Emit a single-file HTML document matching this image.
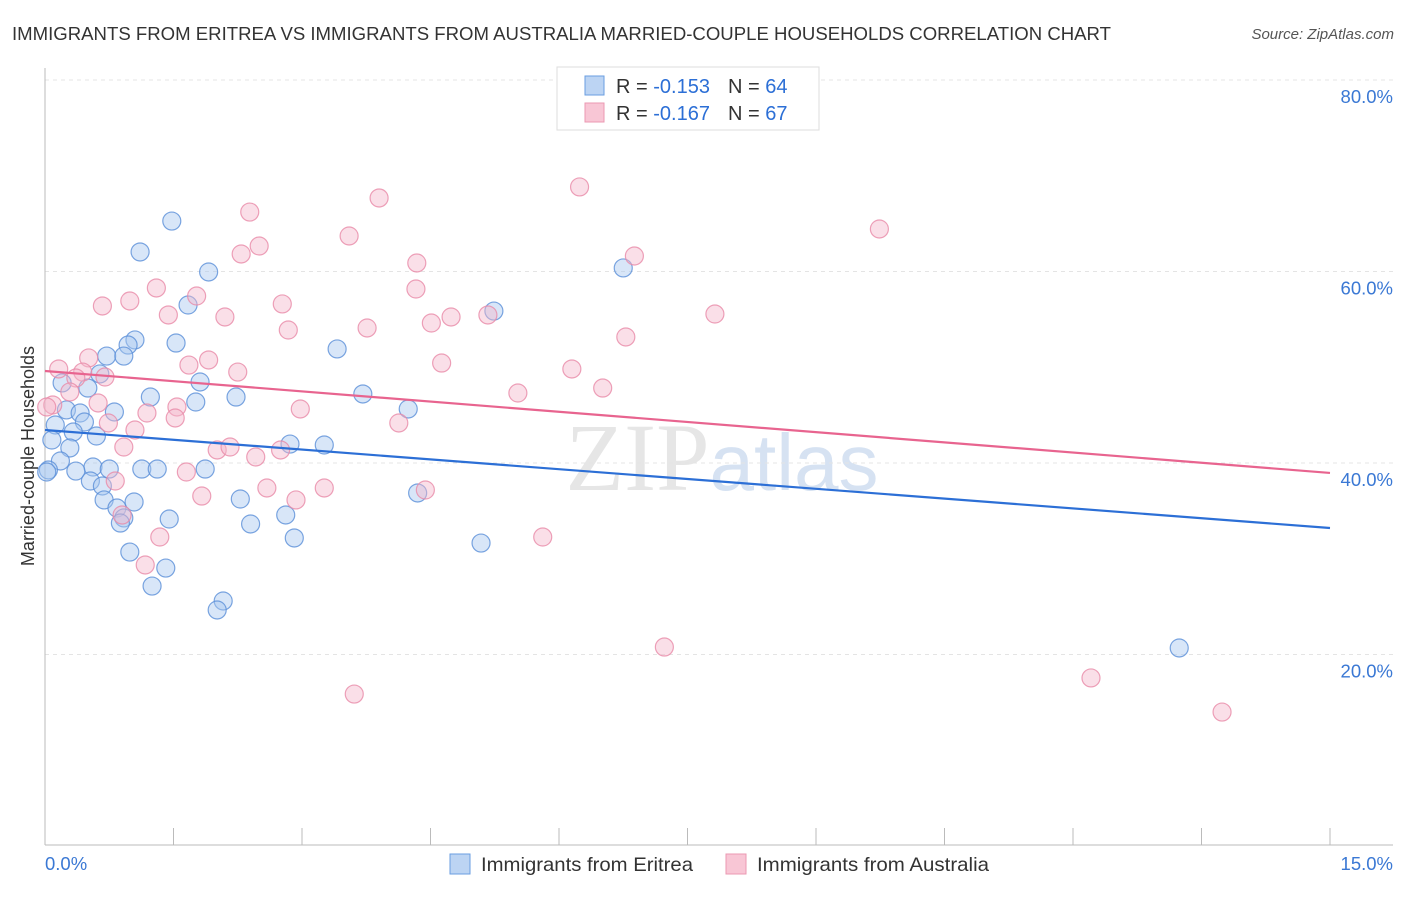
<!DOCTYPE html>
<html><head><meta charset="utf-8"><style>
body{margin:0;background:#fff;font-family:"Liberation Sans",sans-serif}
</style></head><body>
<svg id="chart" width="1406" height="892" xmlns="http://www.w3.org/2000/svg" style="font-family:'Liberation Sans',sans-serif">
<text x="12" y="40" font-size="18.5" fill="#333" textLength="1099" lengthAdjust="spacingAndGlyphs">IMMIGRANTS FROM ERITREA VS IMMIGRANTS FROM AUSTRALIA MARRIED-COUPLE HOUSEHOLDS CORRELATION CHART</text>
<text x="1394" y="39" font-size="15" fill="#555" text-anchor="end" font-style="italic">Source: ZipAtlas.com</text>
<text x="722" y="490" font-size="96" fill="#e6e6e6" text-anchor="middle" font-family="Liberation Serif">ZIP<tspan fill="#d6e2f2" font-family="Liberation Sans" font-size="80">atlas</tspan></text>
<g id="grid"></g>
<g id="axes"></g>
<g id="marks"></g>
<g id="lines"></g>
<text transform="translate(34,456) rotate(-90)" font-size="18" fill="#333" text-anchor="middle">Married-couple Households</text>
<g>
<rect x="557" y="67" width="262" height="63" fill="#fff" stroke="#ddd"/>
<rect x="585" y="76" width="19" height="19" fill="#bcd4f3" stroke="#6a9ee0"/>
<rect x="585" y="103" width="19" height="19" fill="#f8c6d5" stroke="#eb98b2"/>
<text x="616" y="93" font-size="20" fill="#333">R = <tspan fill="#2c6fd6">-0.153</tspan><tspan dx="18">N = </tspan><tspan fill="#2c6fd6">64</tspan></text>
<text x="616" y="120" font-size="20" fill="#333">R = <tspan fill="#2c6fd6">-0.167</tspan><tspan dx="18">N = </tspan><tspan fill="#2c6fd6">67</tspan></text>
</g>
<g>
<rect x="450" y="854" width="20" height="20" fill="#bcd4f3" stroke="#6a9ee0"/>
<text x="481" y="871" font-size="19.5" fill="#333" textLength="212" lengthAdjust="spacingAndGlyphs">Immigrants from Eritrea</text>
<rect x="726" y="854" width="20" height="20" fill="#f8c6d5" stroke="#eb98b2"/>
<text x="757" y="871" font-size="19.5" fill="#333" textLength="232" lengthAdjust="spacingAndGlyphs">Immigrants from Australia</text>
</g>
</svg>
<script>
const yTicks=[20,40,60,80];
const yTickLabels=["20.0%","40.0%","60.0%","80.0%"];
const xTicks=[0,1.5,3,4.5,6,7.5,9,10.5,12,13.5,15];
const eritreaX=[1.48,1.11,1.91,1.67,1.05,0.97,0.72,0.92,1.53,3.41,5.24,6.75,0.64,0.20,0.50,1.23,1.81,1.76,2.23,3.71,4.24,0.25,0.41,0.81,0.12,0.46,0.33,0.60,0.08,0.29,0.18,0.04,0.56,0.75,0.36,1.13,1.31,1.87,2.86,3.26,0.53,0.67,0.69,1.04,0.84,0.92,0.88,1.45,2.28,2.81,2.40,2.91,0.99,1.41,1.25,2.08,2.01,4.35,5.09,13.24,0.02];
const eritreaY=[65.27,62.04,59.95,56.50,52.85,52.32,51.17,51.17,52.53,51.91,55.87,60.37,49.30,48.36,47.83,46.89,48.46,46.37,46.89,47.21,45.64,45.54,45.22,45.33,43.97,44.28,43.24,42.82,42.40,41.57,40.21,39.27,39.58,39.37,39.16,39.37,39.37,39.37,41.98,41.88,38.12,37.60,36.14,35.93,35.30,34.26,33.73,34.15,36.24,34.57,33.63,32.17,30.70,29.03,27.15,25.59,24.65,36.87,31.64,20.68,39.06];
const australiaX=[6.24,3.90,2.39,9.74,2.50,2.29,3.55,6.88,4.34,1.30,1.77,0.99,0.67,2.77,1.44,2.10,4.33,4.51,3.76,4.74,5.17,7.82,2.84,6.78,0.51,1.91,1.68,4.63,6.15,0.16,0.44,2.25,0.36,0.70,0.29,6.51,5.52,0.09,0.02,0.62,1.54,2.98,1.19,1.52,4.13,0.74,1.05,0.92,2.01,2.16,2.46,2.75,1.65,0.82,2.59,3.26,4.44,1.83,2.93,0.90,1.34,5.81,1.17,7.23,12.21,3.61,13.74];
const australiaY=[68.83,67.68,66.21,64.44,62.66,61.83,63.71,61.62,60.89,58.28,57.44,56.92,56.40,56.61,55.46,55.25,58.17,54.62,54.10,55.25,55.46,55.56,53.89,53.16,50.97,50.76,50.23,50.44,49.82,49.82,49.50,49.50,48.88,48.98,47.42,47.83,47.31,46.06,45.85,46.27,45.85,45.64,45.22,44.70,44.18,44.18,43.45,41.67,41.36,41.67,40.63,41.36,39.06,38.12,37.39,37.39,37.18,36.55,36.14,34.57,32.27,32.27,29.35,20.78,17.55,15.87,13.99];
const eritreaTrend=[43.45,33.21];
const australiaTrend=[49.61,38.96];

const NS="http://www.w3.org/2000/svg";
const sx=v=>45+v/15*1285;
const sy=v=>846-v/20*191.5;
function mk(tag,attrs,parent){const e=document.createElementNS(NS,tag);for(const k in attrs)e.setAttribute(k,attrs[k]);document.getElementById(parent).appendChild(e);return e;}
yTicks.forEach((t,i)=>{
  const g=mk('line',{x1:45,x2:1393,y1:sy(t),y2:sy(t),stroke:'#e4e4e4','stroke-dasharray':'4,4'},'grid');
  
  
  const l=mk('text',{x:1393,y:sy(t)+23,'font-size':18.5,fill:'#3a78d4','text-anchor':'end'},'grid');
  l.textContent=yTickLabels[i];
  
  
});
const ax=mk('line',{x1:45,x2:1393,y1:845,y2:845,stroke:'#bbb'},'axes');


const ay=mk('line',{x1:45,x2:45,y1:68,y2:845,stroke:'#bbb'},'axes');


xTicks.forEach(t=>{
  const k=mk('line',{x1:sx(t),x2:sx(t),y1:828,y2:845,stroke:'#bbb'},'axes');
  
  
});
const x0=mk('text',{x:45,y:870,'font-size':18.5,fill:'#3a78d4'},'axes');x0.textContent='0.0%';


const x1=mk('text',{x:1393,y:870,'font-size':18.5,fill:'#3a78d4','text-anchor':'end'},'axes');x1.textContent='15.0%';


function pts(xs,ys,fill,stroke,name){
  xs.forEach((x,i)=>{
    const c=mk('circle',{cx:sx(x),cy:sy(ys[i]),r:9,fill:fill,'fill-opacity':0.45,stroke:stroke,'stroke-opacity':0.8,'stroke-width':1.2},'marks');
    
    
  });
}
pts(eritreaX,eritreaY,'#a9c8f0','#5a8fd8','eritrea-point');
pts(australiaX,australiaY,'#f5b8cb','#e88aa8','australia-point');
const lb=mk('line',{x1:sx(0),y1:sy(eritreaTrend[0]),x2:sx(15),y2:sy(eritreaTrend[1]),stroke:'#2c6fd6','stroke-width':2.2},'lines');


const lp=mk('line',{x1:sx(0),y1:sy(australiaTrend[0]),x2:sx(15),y2:sy(australiaTrend[1]),stroke:'#e8648f','stroke-width':2.2},'lines');


</script>
</body></html>
